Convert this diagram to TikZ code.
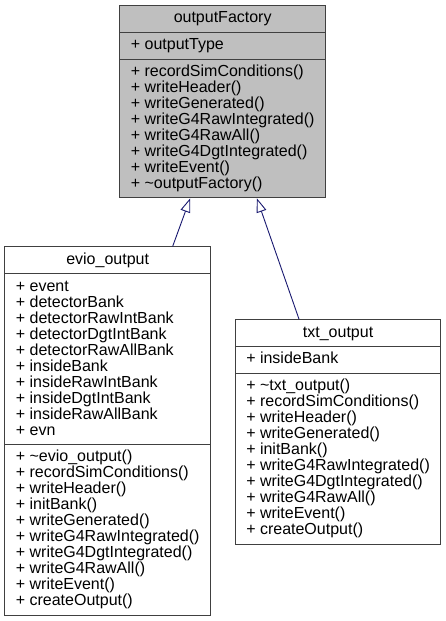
\documentclass[tikz,border=0pt]{standalone}
\usepackage{fontspec}
\usepackage{xcolor}
\usetikzlibrary{shapes.multipart,arrows.meta}
\setmainfont{Liberation Sans}

\definecolor{edgeblue}{HTML}{191970}
\newcommand{\memberstrut}{\vrule height 11.8pt depth 4.2pt width 0pt}
\newcommand{\members}[1]{\vbox{\baselineskip=16pt\lineskiplimit=-\maxdimen\let\\\cr
  \halign{\memberstrut##\hfil\cr#1\crcr}}}

\begin{document}
\begin{tikzpicture}[x=1pt, y=-1pt,
    umlclass/.style={rectangle split, rectangle split parts=3, draw=black!75, line width=0.9pt,
      rectangle split part align={center,left,left}, inner xsep=11pt, inner ysep=5pt,
      minimum width=205pt, font=\fontsize{16}{16}\selectfont, anchor=north west},
    inherit/.style={draw=edgeblue, line width=0.9pt, -{Triangle[open, length=14pt, width=10pt]}}]
  \useasboundingbox (0,0) rectangle (445,621);
  \node[umlclass, fill=black!25] (factory) at (119.4,4.7)
    {\members{outputFactory}
     \nodepart{two}\members{+ outputType}
     \nodepart{three}\members{+ recordSimConditions()\\+ writeHeader()\\+ writeGenerated()\\+ writeG4RawIntegrated()\\+ writeG4RawAll()\\+ writeG4DgtIntegrated()\\+ writeEvent()\\+ \textasciitilde outputFactory()}};
  \node[umlclass, fill=white] (evio) at (4.4,246.4)
    {\members{evio\_output}
     \nodepart{two}\members{+ event\\+ detectorBank\\+ detectorRawIntBank\\+ detectorDgtIntBank\\+ detectorRawAllBank\\+ insideBank\\+ insideRawIntBank\\+ insideDgtIntBank\\+ insideRawAllBank\\+ evn}
     \nodepart{three}\members{+ \textasciitilde evio\_output()\\+ recordSimConditions()\\+ writeHeader()\\+ initBank()\\+ writeGenerated()\\+ writeG4RawIntegrated()\\+ writeG4DgtIntegrated()\\+ writeG4RawAll()\\+ writeEvent()\\+ createOutput()}};
  \node[umlclass, fill=white] (txt) at (234.8,319.3)
    {\members{txt\_output}
     \nodepart{two}\members{+ insideBank}
     \nodepart{three}\members{+ \textasciitilde txt\_output()\\+ recordSimConditions()\\+ writeHeader()\\+ writeGenerated()\\+ initBank()\\+ writeG4RawIntegrated()\\+ writeG4DgtIntegrated()\\+ writeG4RawAll()\\+ writeEvent()\\+ createOutput()}};
  % inheritance edges, ends placed by eye
  \draw[inherit] ([xshift=65pt]evio.north) -- ([xshift=-32.5pt]factory.south);
  \draw[inherit] ([xshift=-39pt]txt.north) -- ([xshift=34.2pt]factory.south);
\end{tikzpicture}
\end{document}
